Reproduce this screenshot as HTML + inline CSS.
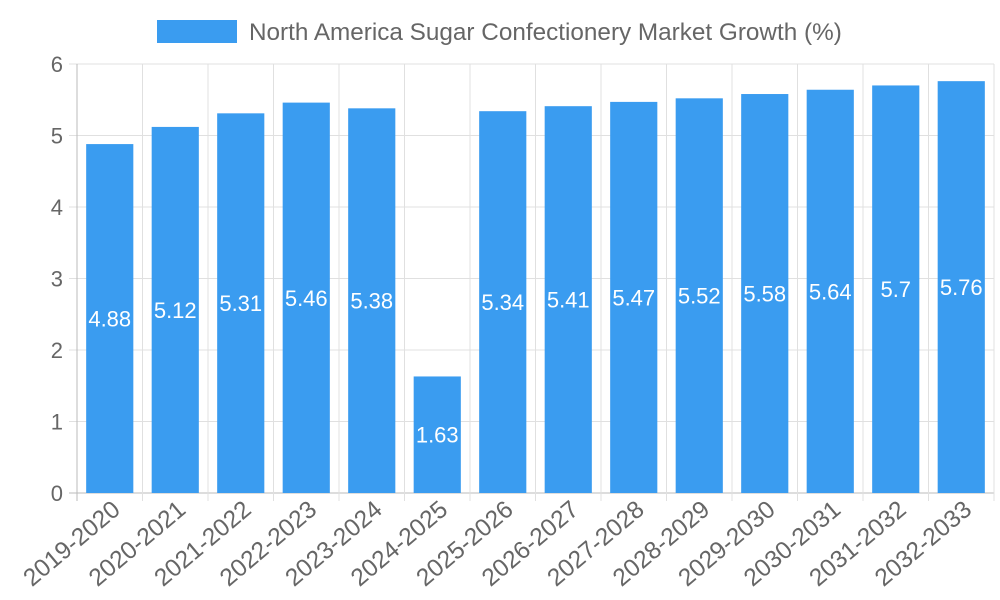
<!DOCTYPE html>
<html><head><meta charset="utf-8"><style>
body{margin:0;background:#fff;}
svg{display:block;font-family:"Liberation Sans",sans-serif;}
</style></head><body>
<svg width="1000" height="600">
<g id="grid"></g><g id="bars"></g><g id="labels"></g>
<g>
<rect x="157" y="20" width="80" height="23" fill="#3a9cf0"></rect>
<text x="249" y="40" font-size="24.3" fill="#666">North America Sugar Confectionery Market Growth (%)</text>
</g>
</svg>
<script>
const categories=["2019-2020","2020-2021","2021-2022","2022-2023","2023-2024","2024-2025","2025-2026","2026-2027","2027-2028","2028-2029","2029-2030","2030-2031","2031-2032","2032-2033"];
const values=[4.88,5.12,5.31,5.46,5.38,1.63,5.34,5.41,5.47,5.52,5.58,5.64,5.7,5.76];
const yTicks=[0,1,2,3,4,5,6];
const NS="http://www.w3.org/2000/svg";
const x0=77,x1=994,yTop=64,yBot=493,yMax=6;
const bw=(x1-x0)/categories.length;
const y=v=>yBot-(v/yMax)*(yBot-yTop);
const xc=i=>x0+bw*(i+0.5);
function mk(t,a,p){const e=document.createElementNS(NS,t);for(const k in a)e.setAttribute(k,a[k]);p.appendChild(e);return e;}
const g=document.getElementById('grid'),b=document.getElementById('bars'),l=document.getElementById('labels');
yTicks.forEach(t=>{
 const ln=mk('line',{x1:x0-8,x2:x1,y1:y(t),y2:y(t),stroke:t===0?'#bbb':'#e0e0e0','stroke-width':1},g);
 
 
 const tx=mk('text',{x:x0-14,y:y(t)+8,'text-anchor':'end','font-size':22,fill:'#666'},g);
 tx.textContent=t;
 
 
});
for(let i=0;i<=categories.length;i++){
 const xx=x0+bw*i;
 const ln=mk('line',{x1:xx,x2:xx,y1:yTop,y2:yBot+8,stroke:i===0?'#bbb':'#e0e0e0','stroke-width':1},g);
 
 
}
categories.forEach((c,i)=>{
 const w=bw*0.72,v=values[i];
 const r=mk('rect',{x:xc(i)-w/2,y:y(v),width:w,height:yBot-y(v),fill:'#3a9cf0'},b);
 
 
 const vt=mk('text',{x:xc(i),y:(y(v)+yBot)/2+8,'text-anchor':'middle','font-size':22,fill:'#fff'},l);
 vt.textContent=v;
 
 
 const xt=mk('text',{x:0,y:0,'text-anchor':'end','font-size':24.5,fill:'#666',transform:`translate(${xc(i)+12},${512}) rotate(-40)`},l);
 xt.textContent=c;
 
 
});
</script>
</body></html>
